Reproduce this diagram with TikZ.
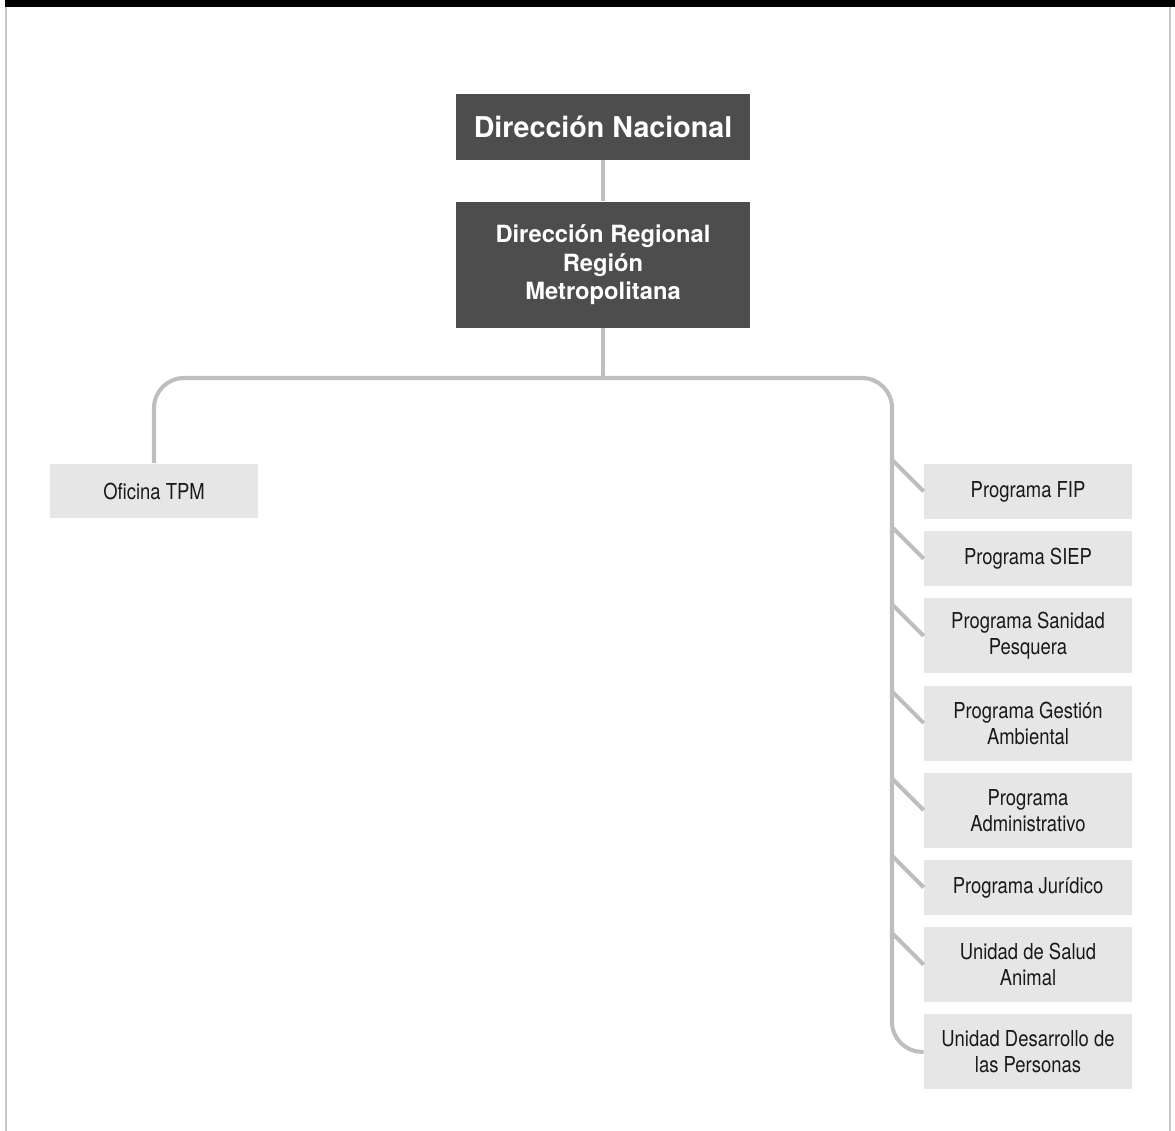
\documentclass[tikz,border=0pt]{standalone}
\usepackage{fontspec}
\setmainfont{TeX Gyre Heros}
\newfontfamily\condfont[FakeStretch=0.84]{TeX Gyre Heros}
\usetikzlibrary{positioning}
\definecolor{darkbox}{HTML}{4D4D4D}
\definecolor{lightbox}{HTML}{E6E6E6}
\definecolor{linkgray}{HTML}{BEBEBE}
\definecolor{framegray}{HTML}{C8C8C8}
\tikzstyle{headbox} = [rectangle, minimum width=5.88cm, inner sep=0pt, text=white, fill=darkbox, align=center]
\tikzstyle{unitbox} = [rectangle, minimum width=4.16cm, minimum height=1.1cm, inner sep=0pt, fill=lightbox, text=black!90, align=center, font=\condfont\fontsize{12.5}{14.8}\selectfont]
\tikzstyle{tallbox} = [unitbox, minimum height=1.5cm]
\tikzstyle{link} = [draw=linkgray, line width=2.3pt]

\begin{document}
\begin{tikzpicture}[x=0.02cm, y=-0.02cm, node distance=0.23cm]

		\useasboundingbox (0,0) rectangle (1175,1131);
		% frame
		\fill [black] (5,0) rectangle (1175,7);
		\draw [framegray, line width=1.1pt] (6,7) -- (6,1131);
		\draw [framegray, line width=1.1pt] (1170,7) -- (1170,1131);

		\node (nacional) [headbox, minimum height=1.32cm, font=\bfseries\fontsize{16.3}{18}\selectfont] at (603,127) {Dirección Nacional};
		\node (regional) [headbox, minimum height=2.52cm, below=0.82cm of nacional, font=\bfseries\fontsize{13.5}{16.5}\selectfont] {Dirección Regional\\Región\\Metropolitana};

		\node (oficina) [unitbox] at (154,491) {Oficina TPM};

		\node (fip) [unitbox] at (1028,491.5) {Programa FIP};
		\node (siep) [unitbox, below=of fip] {Programa SIEP};
		\node (sanidad) [tallbox, below=of siep] {Programa Sanidad\\Pesquera};
		\node (gestion) [tallbox, below=of sanidad] {Programa Gestión\\Ambiental};
		\node (admin) [tallbox, below=of gestion] {Programa\\Administrativo};
		\node (juridico) [unitbox, below=of admin] {Programa Jurídico};
		\node (salud) [tallbox, below=of juridico] {Unidad de Salud\\Animal};
		\node (desarrollo) [tallbox, below=of salud] {Unidad Desarrollo de\\las Personas};

		\coordinate (bus) at (892,378);

		\draw [link] (nacional) -- (regional);
		\draw [link] (regional.south) -- (regional.south |- bus);
		\draw [link, rounded corners=0.6cm] (oficina.north) |- (bus) |- (desarrollo.west);
		\foreach \n in {fip,siep,sanidad,gestion,admin,juridico,salud}
			\draw [link] (\n.west) -- ++(-0.64cm,0.64cm);

		\end{tikzpicture}
\end{document}
